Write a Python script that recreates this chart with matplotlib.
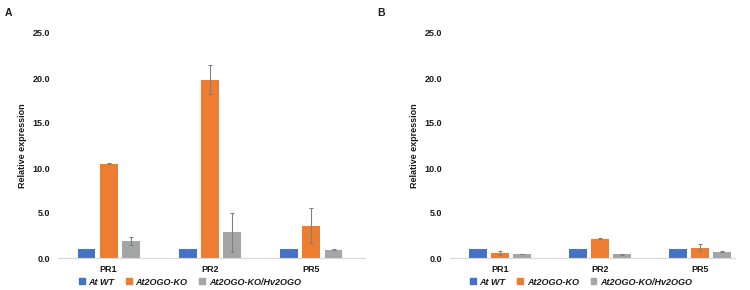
from matplotlib import pyplot as plt
from matplotlib.patches import Patch
import numpy as np

plt.rcParams['font.family'] = ['Liberation Sans', 'DejaVu Sans']

genes = ['PR1', 'PR2', 'PR5']
series = ['At WT', 'At2OGO-KO', 'At2OGO-KO/Hv2OGO']
colors = ['#4472C4', '#ED7D31', '#A5A5A5']
yticks = [0, 5, 10, 15, 20, 25]

# panel A
a_wt = [1.0, 1.0, 1.0]
a_ko = [10.5, 19.8, 3.6]
a_hv = [1.9, 2.85, 0.93]
a_wt_err = [0.03, 0.03, 0.03]
a_ko_err = [0.08, 1.6, 1.95]
a_hv_err = [0.45, 2.15, 0.08]

# panel B
b_wt = [1.0, 1.0, 1.0]
b_ko = [0.55, 2.15, 1.15]
b_hv = [0.45, 0.4, 0.7]
b_wt_err = [0.02, 0.02, 0.02]
b_ko_err = [0.25, 0.05, 0.4]
b_hv_err = [0.03, 0.03, 0.07]

text_color = '#1a1a1a'


def draw_panel(ax, vals, errs, legend_x, spine_right):
	x = np.arange(len(genes))
	pitch = 0.22
	width = 0.175
	for i, (v, e) in enumerate(zip(vals, errs)):
		ax.bar(x + (i - 1) * pitch, v, width=width, color=colors[i],
			yerr=e, ecolor='#808080',
			error_kw={'elinewidth': 0.8, 'capsize': 1.5, 'capthick': 0.8})
	ax.set_xlim(-0.5, 2.5)
	ax.set_ylim(0, 25)
	ax.set_xticks(x)
	ax.set_xticklabels(genes, fontweight='bold', fontsize=6.5, color=text_color)
	ax.set_yticks(yticks)
	ax.set_yticklabels(['{:.1f}'.format(t) for t in yticks],
		fontweight='bold', fontsize=6.5, color=text_color)
	ax.tick_params(length=0)
	ax.tick_params(axis='y', pad=5.5)
	ax.tick_params(axis='x', pad=5)
	for s in ['top', 'right', 'left']:
		ax.spines[s].set_visible(False)
	ax.spines['bottom'].set_color('#D9D9D9')
	ax.spines['bottom'].set_linewidth(0.8)
	ax.spines['bottom'].set_bounds(-0.5, spine_right)
	ax.set_ylabel('Relative expression', fontweight='bold', fontsize=6.5,
		color=text_color)
	ax.yaxis.set_label_coords(-0.103, 0.5)
	handles = [Patch(color=c, label=s) for c, s in zip(colors, series)]
	ax.legend(handles=handles, loc='center', bbox_to_anchor=(legend_x, -0.107),
		ncol=3, frameon=False, handlelength=0.65, handleheight=0.65,
		columnspacing=1.3, handletextpad=0.4, borderpad=0,
		prop={'weight': 'bold', 'style': 'italic', 'size': 6.5},
		labelcolor=text_color)


fig = plt.figure(figsize=(7.5, 2.9), dpi=100)
ax_a = fig.add_axes([58 / 750, 1 - 258 / 290, 304 / 750, 225 / 290])
ax_b = fig.add_axes([450 / 750, 1 - 258 / 290, 300 / 750, 225 / 290])

draw_panel(ax_a, [a_wt, a_ko, a_hv], [a_wt_err, a_ko_err, a_hv_err], 0.434, 2.53)
draw_panel(ax_b, [b_wt, b_ko, b_hv], [b_wt_err, b_ko_err, b_hv_err], 0.437, 2.35)

fig.text(5 / 750, 1 - 13 / 290, 'A', fontweight='bold', fontsize=7.5,
	color=text_color, va='center')
fig.text(377 / 750, 1 - 13 / 290, 'B', fontweight='bold', fontsize=7.5,
	color=text_color, va='center')

plt.savefig('out.png', dpi=100)
